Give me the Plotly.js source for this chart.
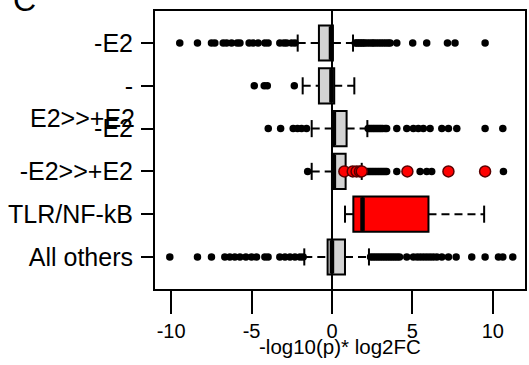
<!DOCTYPE html>
<html>
<head>
<meta charset="utf-8">
<script src="https://cdn.plot.ly/plotly-3.0.1.min.js"></script>
<style>html,body{margin:0;padding:0;background:#fff;}#chart{width:529px;height:365px;}</style>
</head>
<body>
<div id="chart"></div>
<script>
// Row positions (top to bottom) and tick labels
const rows = [1, 2, 3, 4, 5, 6];
const rowLabels = ["-E2", "-", "-E2", "-E2>>+E2", "TLR/NF-kB", "All others"];
const extraLabel = "E2>>+E2";
const xTitle = "-log10(p)* log2FC";

// Box statistics per row
const lowerWhisker = [-2.13, -1.82, -1.26, -1.26, 0.81, -1.72];
const q1 = [-0.81, -0.81, 0.02, 0.00, 1.33, -0.27];
const medians = [-0.06, -0.03, 0.12, 0.12, 1.90, 0.00];
const q3 = [0.06, 0.14, 0.91, 0.85, 6.00, 0.81];
const upperWhisker = [1.31, 1.39, 2.20, 1.85, 9.46, 2.30];
const boxFills = ["#d3d3d3", "#d3d3d3", "#d3d3d3", "#d3d3d3", "#ff0000", "#d3d3d3"];

// Outliers per row (black)
const out1 = [-9.46,-8.36,-7.49,-7.28,-6.76,-6.55,-6.24,-5.89,-5.72,-5.15,-4.90,-4.59,-4.17,-3.97,-3.24,-2.99,-2.82,-2.51,-2.30,
  1.45,1.55,1.65,1.75,1.85,1.95,2.05,2.20,2.35,2.50,2.60,2.75,2.90,3.05,3.20,3.35,3.50,3.62,4.03,5.02,5.89,7.18,7.65,9.52];
const out2 = [-4.83,-4.21,-4.02,-2.34];
const out3 = [-3.96,-3.19,-2.41,-2.14,-1.89,-1.58,
  2.25,2.35,2.45,2.55,2.65,2.75,2.85,2.95,3.05,3.15,3.30,3.40,4.03,4.65,5.06,5.37,5.68,6.10,6.83,7.24,7.76,9.52,10.62];
const out4 = [-1.51,1.90,2.00,2.10,2.20,2.30,2.40,2.50,2.60,2.70,2.80,2.90,3.00,3.10,3.20,3.30,3.40,4.03,5.48,5.89,6.20,10.66];
const out5 = [];
const out6 = [-10.08,-8.36,-7.49,-6.66,-6.35,-6.04,-5.72,-5.35,-5.00,-4.69,-4.17,-3.97,-3.24,-2.92,-2.61,-2.30,-1.99,-1.79,
  2.40,2.55,2.70,2.85,3.00,3.15,3.30,3.45,3.60,3.75,3.90,4.05,4.20,4.65,5.06,5.30,5.50,5.70,5.90,6.10,6.30,6.52,
  6.83,7.24,7.72,8.69,9.52,10.35,10.62,11.24];
const outliers = [out1, out2, out3, out4, out5, out6];

// Highlighted (red) points in the -E2>>+E2 row
const redRow = 4;
const redPoints = [0.77, 1.29, 1.53, 1.74, 1.85, 4.69, 7.24, 9.52];

const xTicks = [-10, -5, 0, 5, 10];

const BOXW = 0.82, CAPW = 0.4;
const traces = [];

// Boxes
rows.forEach((r, i) => {
  traces.push({
    type: 'box', orientation: 'h',
    y: [r], q1: [q1[i]], median: [medians[i]], q3: [q3[i]],
    lowerfence: [q1[i]], upperfence: [q3[i]],
    width: BOXW, whiskerwidth: 0, boxpoints: false,
    fillcolor: boxFills[i], line: {color: '#000', width: 2},
    showlegend: false, hoverinfo: 'skip'
  });
});

// Whiskers (dashed), caps, medians
const wx = [], wy = [], cx = [], cy = [], mx = [], my = [];
rows.forEach((r, i) => {
  wx.push(lowerWhisker[i], q1[i], null, q3[i], upperWhisker[i], null);
  wy.push(r, r, null, r, r, null);
  cx.push(lowerWhisker[i], lowerWhisker[i], null, upperWhisker[i], upperWhisker[i], null);
  cy.push(r - CAPW/2, r + CAPW/2, null, r - CAPW/2, r + CAPW/2, null);
  mx.push(medians[i], medians[i], null);
  my.push(r - BOXW/2 + 0.02, r + BOXW/2 - 0.02, null);
});
traces.push({type: 'scatter', mode: 'lines', x: wx, y: wy, line: {color: '#000', width: 2, dash: '8px,5px'}, showlegend: false, hoverinfo: 'skip'});
traces.push({type: 'scatter', mode: 'lines', x: cx, y: cy, line: {color: '#000', width: 2}, showlegend: false, hoverinfo: 'skip'});
traces.push({type: 'scatter', mode: 'lines', x: mx, y: my, line: {color: '#000', width: 4.5}, showlegend: false, hoverinfo: 'skip'});

// Outliers
const ox = [], oy = [];
rows.forEach((r, i) => { outliers[i].forEach(v => { ox.push(v); oy.push(r); }); });
traces.push({type: 'scatter', mode: 'markers', x: ox, y: oy, marker: {color: '#000', size: 7.5}, showlegend: false, hoverinfo: 'skip'});
traces.push({type: 'scatter', mode: 'markers', x: redPoints, y: redPoints.map(() => redRow),
  marker: {color: '#ff0000', size: 11, line: {color: '#5a0000', width: 1.5}}, showlegend: false, hoverinfo: 'skip'});

const layout = {
  width: 529, height: 365,
  margin: {l: 155, r: 4, t: 11, b: 76},
  paper_bgcolor: '#fff', plot_bgcolor: '#fff',
  font: {family: 'Liberation Sans, Arial, sans-serif', color: '#000'},
  hovermode: false,
  xaxis: {
    range: [-11.0, 12.0], tickvals: xTicks, ticktext: xTicks.map(String),
    ticks: 'outside', ticklen: 23, tickwidth: 2, tickcolor: '#000',
    showline: true, mirror: true, linewidth: 2, linecolor: '#000',
    showgrid: false, zeroline: true, zerolinecolor: '#000', zerolinewidth: 2,
    tickfont: {size: 20}, ticklabelstandoff: 0
  },
  yaxis: {
    range: [6.75, 0.25], tickvals: rows, ticktext: rowLabels,
    ticks: 'outside', ticklen: 12, tickwidth: 2, tickcolor: '#000',
    showline: true, mirror: true, linewidth: 2, linecolor: '#000',
    showgrid: false, zeroline: false,
    tickfont: {size: 25}, ticklabelstandoff: 3
  },
  annotations: [
    {text: xTitle, xref: 'x', yref: 'paper', x: 0.5, y: 0, yshift: -57, xanchor: 'center', yanchor: 'middle',
     showarrow: false, font: {size: 20.5, color: '#000'}},
    {text: extraLabel, xref: 'paper', yref: 'y', x: -0.05, y: 2.74, xanchor: 'right', yanchor: 'middle',
     showarrow: false, font: {size: 25, color: '#000'}},
    {text: 'C', xref: 'paper', yref: 'paper', x: -0.39, y: 1.0, yshift: -9, xanchor: 'left', yanchor: 'bottom',
     showarrow: false, font: {size: 32, color: '#000'}}
  ]
};

Plotly.newPlot('chart', traces, layout, {staticPlot: true, displayModeBar: false});
</script>
</body>
</html>
